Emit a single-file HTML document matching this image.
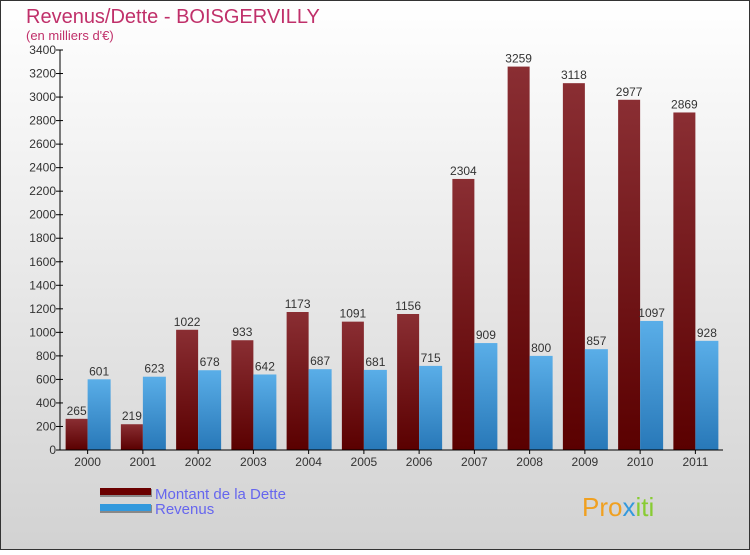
<!DOCTYPE html>
<html><head><meta charset="utf-8"><style>
body{margin:0;width:750px;height:550px;overflow:hidden;font-family:"Liberation Sans",sans-serif}
</style></head><body>
<svg width="750" height="550" xmlns="http://www.w3.org/2000/svg" font-family="Liberation Sans, sans-serif">
<defs>
<linearGradient id="bg" x1="0" y1="0" x2="0" y2="1"><stop offset="0" stop-color="#ffffff"/><stop offset="1" stop-color="#d2d2d2"/></linearGradient>
<linearGradient id="gd" x1="0" y1="0" x2="0" y2="1"><stop offset="0" stop-color="#8a2e33"/><stop offset="1" stop-color="#5a0000"/></linearGradient>
<linearGradient id="gr" x1="0" y1="0" x2="0" y2="1"><stop offset="0" stop-color="#5aaee8"/><stop offset="1" stop-color="#2878b8"/></linearGradient>
</defs>
<rect x="0.5" y="0.5" width="749" height="549" fill="url(#bg)" stroke="#333"/>
<text x="26" y="23" font-size="20" fill="#c0306a">Revenus/Dette - BOISGERVILLY</text>
<text x="26" y="40" font-size="13" fill="#c0306a">(en milliers d'€)</text>
<g id="plot"></g>
<g>
<rect x="100" y="489" width="52" height="8" fill="#888"/><rect x="100" y="488" width="51" height="7" fill="#6a0000"/>
<text x="155" y="499" font-size="15" fill="#6666ee">Montant de la Dette</text>
<rect x="100" y="505" width="52" height="8" fill="#888"/><rect x="100" y="504" width="51" height="7" fill="#3399dd"/>
<text x="155" y="514" font-size="15" fill="#6666ee">Revenus</text>
</g>
<text x="582" y="516" font-size="26" fill="#f0a020">Pro<tspan fill="#3399dd">x</tspan><tspan fill="#88cc33">iti</tspan></text>
</svg>
<script>
const years=["2000","2001","2002","2003","2004","2005","2006","2007","2008","2009","2010","2011"];
const dette=[265,219,1022,933,1173,1091,1156,2304,3259,3118,2977,2869];
const revenus=[601,623,678,642,687,681,715,909,800,857,1097,928];
const ticks=[0,200,400,600,800,1000,1200,1400,1600,1800,2000,2200,2400,2600,2800,3000,3200,3400];
const NS="http://www.w3.org/2000/svg";
const g=document.getElementById('plot');
const x0=60,x1=723,y0=450,yTop=50,maxV=3400;
const bw=(x1-x0)/years.length;
const y=v=>y0-v/maxV*(y0-yTop);
function mk(t,a,txt){const e=document.createElementNS(NS,t);for(const k in a)e.setAttribute(k,a[k]);if(txt!==undefined)e.textContent=txt;g.appendChild(e);return e;}
years.forEach((yr,i)=>{
 const c=x0+bw*(i+0.5);
 let e=mk('rect',{x:c-22,y:y(dette[i]),width:22,height:y0-y(dette[i]),fill:'url(#gd)'});
 
 
 e=mk('rect',{x:c,y:y(revenus[i]),width:23,height:y0-y(revenus[i]),fill:'url(#gr)'});
 
 
 e=mk('text',{x:c-11,y:y(dette[i])-4,'font-size':12,'text-anchor':'middle',fill:'#333'},dette[i]);
 
 
 e=mk('text',{x:c+11.5,y:y(revenus[i])-4,'font-size':12,'text-anchor':'middle',fill:'#333'},revenus[i]);
 
 
 e=mk('line',{x1:c,x2:c,y1:y0,y2:y0+4,stroke:'#000'});
 
 
 e=mk('text',{x:c,y:y0+16,'font-size':12,'text-anchor':'middle',fill:'#333'},yr);
 
 
});
ticks.forEach(t=>{
 let e=mk('line',{x1:x0-4,x2:x0+3,y1:y(t),y2:y(t),stroke:'#000'});
 
 
 e=mk('text',{x:x0-4,y:y(t)+4,'font-size':12,'text-anchor':'end',fill:'#333'},t);
 
 
});
let a=mk('line',{x1:x0,x2:x0,y1:yTop,y2:y0,stroke:'#000'});


a=mk('line',{x1:x0,x2:x1,y1:y0,y2:y0,stroke:'#000'});


</script>
</body></html>
